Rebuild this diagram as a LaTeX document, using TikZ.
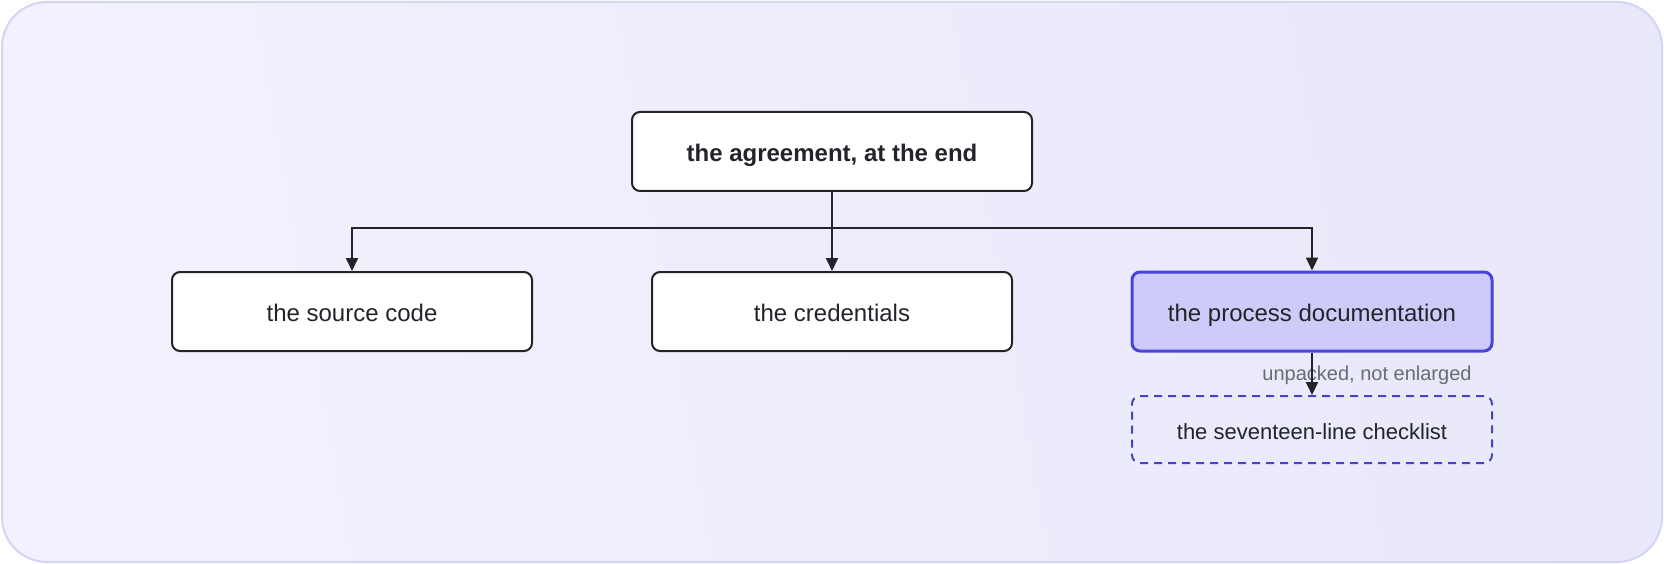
\documentclass[tikz,border=0pt]{standalone}
\usepackage{fontspec}
\setmainfont{Liberation Sans}
\usepackage{xcolor}
\usepackage{tikz}
\usetikzlibrary{shapes, arrows.meta, positioning}

\definecolor{inkdark}{HTML}{22242A}
\definecolor{labelgray}{HTML}{6A6B78}
\definecolor{framefill}{HTML}{F2F1FD}
\definecolor{framefilltwo}{HTML}{E8E8FA}
\definecolor{frameline}{HTML}{D3D5F3}
\definecolor{focusfill}{HTML}{CDCCF8}
\definecolor{focusline}{HTML}{4B44DC}
\definecolor{dashline}{HTML}{4A41C4}

\begin{document}
\begin{tikzpicture}[x=1pt, y=-1pt,
		font=\fontsize{24pt}{28pt}\selectfont,
		box/.style={draw=inkdark, line width=2pt, fill=white, rounded corners=8pt, minimum width=360pt, minimum height=79pt, inner sep=0pt, text height=21.6pt, text depth=2.4pt, text=inkdark},
		focusbox/.style={box, draw=focusline, line width=3pt, fill=focusfill},
		loosebox/.style={box, draw=dashline, fill=none, dash pattern=on 8pt off 6pt, minimum height=67pt, text height=20.9pt, text depth=1.1pt, font=\fontsize{22pt}{26pt}\selectfont},
		conn/.style={draw=inkdark, line width=2pt},
		arrow/.style={conn, -{Triangle[length=13pt, width=12pt]}}]
		\useasboundingbox (0,0) rectangle (1664,564);
		% frame
		\shade[shading=axis, left color=framefill, right color=framefilltwo, shading angle=100, rounded corners=45pt] (2,2) rectangle (1662,562);
		\draw[frameline, line width=2pt, rounded corners=45pt] (2,2) rectangle (1662,562);
		% nodes
		\node [box, minimum width=400pt, font=\bfseries\fontsize{24pt}{28pt}\selectfont] (agreement) at (832, 151.5) {the agreement, at the end};
		\node [box] (source) at (352, 311.5) {the source code};
		\node [box] (credentials) at (832, 311.5) {the credentials};
		\node [focusbox] (process) at (1312, 311.5) {the process documentation};
		\node [loosebox] (checklist) at (1312, 429.5) {the seventeen-line checklist};
		\node [text=labelgray, inner sep=0pt, font=\fontsize{20pt}{24pt}\selectfont] (unpacked) at (1367, 375) {unpacked, not enlarged};
		% connectors
		\coordinate (split) at (832, 228);
		\draw [conn] (agreement.south) -- (split);
		\draw [arrow] (split) -| (source.north);
		\draw [arrow] (split) -- (credentials.north);
		\draw [arrow] (split) -| (process.north);
		\draw [arrow] (process.south) -- (checklist.north);
	\end{tikzpicture}
\end{document}
